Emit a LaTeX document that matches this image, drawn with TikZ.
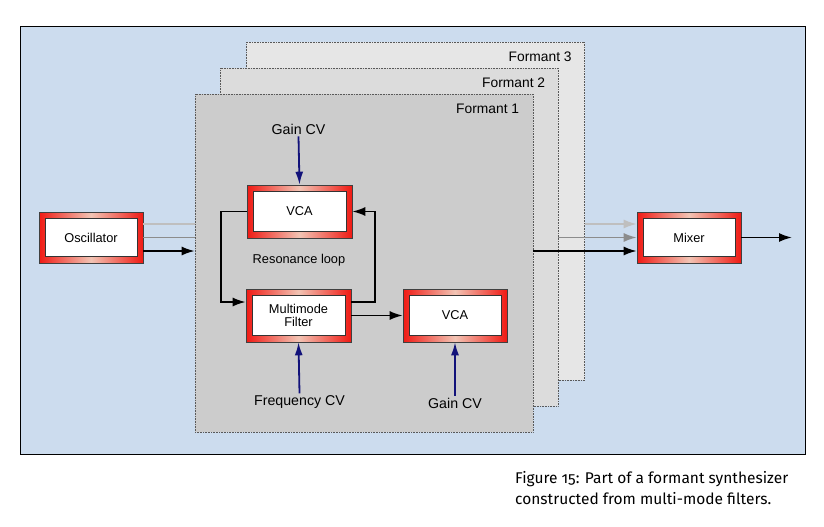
\documentclass[tikz,border=0pt]{standalone}
\usepackage{fontspec}
\setmainfont{Liberation Sans}
\newfontfamily\capfont[Numbers=OldStyle]{Fira Sans}
\usetikzlibrary{arrows.meta,calc,positioning}
\definecolor{bgblue}{HTML}{CCDCEE}
\definecolor{fthree}{HTML}{E6E6E6}
\definecolor{ftwo}{HTML}{DCDCDC}
\definecolor{fone}{HTML}{CCCCCC}
\definecolor{boxred}{HTML}{F01A14}
\definecolor{boxpink}{HTML}{F2C4B4}
\definecolor{cvblue}{HTML}{12127A}
\tikzset{
  redbox/.style={rectangle, draw=black!75, line width=0.6pt,
    left color=boxred, right color=boxred, middle color=boxpink,
    minimum width=105pt, minimum height=53pt, inner sep=1pt, align=center,
    font=\fontsize{12.8}{13.5}\selectfont,
    path picture={\filldraw[fill=white,draw=black!80,line width=0.4pt]
      ([shift={(6pt,-6.5pt)}]path picture bounding box.north west) rectangle
      ([shift={(-6pt,6.5pt)}]path picture bounding box.south east);}},
  formant/.style={rectangle, draw=black!65, densely dotted, line width=0.6pt,
    minimum width=338pt, minimum height=338pt, inner sep=0pt},
  flabel/.style={anchor=east, inner sep=0pt, font=\fontsize{13.8}{14}\selectfont},
  cvlabel/.style={inner sep=2pt, font=\fontsize{14.2}{15}\selectfont},
  arr/.style={-{Latex[length=13pt,width=9pt]}, line width=1.8pt, black},
  cvarr/.style={-{Latex[length=13pt,width=8pt]}, line width=1.8pt, cvblue},
  lightarr/.style={-{Latex[length=13pt,width=9pt]}, line width=1.8pt, black!25},
  midarr/.style={-{Latex[length=13pt,width=9pt]}, line width=1.8pt, black!45},
}
\begin{document}
\begin{tikzpicture}[x=1pt,y=-1pt]
\useasboundingbox (0,0) rectangle (824,527);
\fill[white] (0,0) rectangle (824,527);
\node[rectangle, draw=black, line width=0.8pt, fill=bgblue, minimum width=785pt,
  minimum height=428pt, inner sep=0pt] (frame) at (412.5,240) {};
% formants
\node[formant, fill=fthree] (f3) at (415.5,211) {};
\node[formant, fill=ftwo] (f2) at (389,237) {};
\node[formant, fill=fone] (f1) at (364,263) {};
\node[flabel] (f3l) at ($(f3.north east)+(-13,15)$) {Formant 3};
\node[flabel] (f2l) at ($(f2.north east)+(-13,15)$) {Formant 2};
\node[flabel] (f1l) at ($(f1.north east)+(-14,15)$) {Formant 1};
% boxes
\node[redbox, minimum width=104pt, minimum height=51pt] (osc) at (91,237.5) {Oscillator};
\node[redbox] (vca1) at (299.5,211.5) {VCA};
\node[redbox] (mm) at (298.5,315.5) {Multimode\\Filter};
\node[redbox, minimum width=104pt] (vca2) at (455,315.5) {VCA};
\node[redbox, minimum width=104pt, minimum height=51pt] (mix) at (689,237.5) {Mixer};
\node[inner sep=0pt, font=\fontsize{12.8}{13}\selectfont] (res) at (299,260) {Resonance loop};
% CV labels
\node[cvlabel] (g1) at (298.5,129) {Gain CV};
\node[cvlabel] (fcv) at (299.5,402) {Frequency CV};
\node[cvlabel] (g2) at (455,403) {Gain CV};
% oscillator outputs
\draw[line width=1.8pt, black!25] ([yshift=13.5pt]osc.east) -- ([yshift=13.5pt]osc.east -| f1.west);
\draw[line width=1.8pt, black!45] (osc.east) -- (osc.east -| f1.west);
\draw[arr] ([yshift=-13.5pt]osc.east) -- ([yshift=-13.5pt]osc.east -| f1.west);
% resonance loop
\draw[arr] (vca1.west) -- ++(-26,0) |- ([yshift=13.5pt]mm.west);
\draw[arr] ([yshift=13.5pt]mm.east) -- ++(24,0) |- (vca1.east);
\draw[arr] (mm.east) -- (vca2.west);
% CVs
\draw[cvarr] (g1.south) -- (vca1.north);
\draw[cvarr] (fcv.north) -- (mm.south);
\draw[cvarr] (g2.north) -- (vca2.south);
% mixer inputs
\draw[lightarr] ([yshift=13.5pt]mix.west -| f3.east) -- ([yshift=13.5pt]mix.west);
\draw[midarr] (mix.west -| f2.east) -- (mix.west);
\draw[arr] ([yshift=-13.5pt]mix.west -| f1.east) -- ([yshift=-13.5pt]mix.west);
\coordinate (out) at (792,237.5);
\draw[arr] (mix.east) -- (out);
% caption
\node[anchor=north west, align=left, inner sep=0pt, font=\capfont\fontsize{15.5}{21.5}\selectfont, text=black] (cap) at (515,471)
  {Figure 15: Part of a formant synthesizer\\constructed from multi-mode filters.};
\end{tikzpicture}
\end{document}
